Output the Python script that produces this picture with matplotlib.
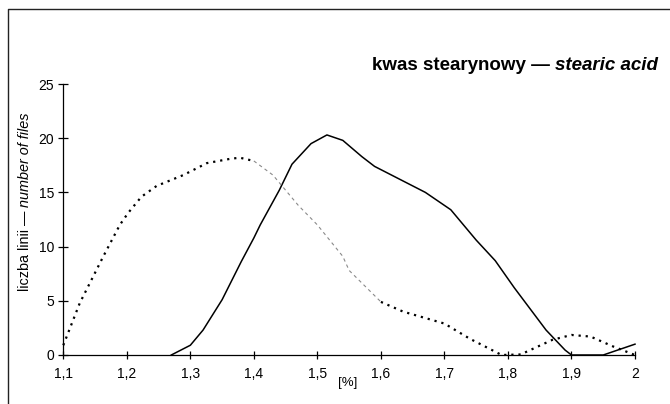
import matplotlib
matplotlib.use('agg')
import numpy as np
import matplotlib.pyplot as plt
from matplotlib.lines import Line2D

plt.rcParams['font.family'] = ['Liberation Sans', 'DejaVu Sans']

# data
x_solid = [1.27, 1.30, 1.32, 1.35, 1.38, 1.40, 1.41, 1.44, 1.46, 1.49, 1.515, 1.54,
           1.57, 1.59, 1.63, 1.67, 1.71, 1.75, 1.78, 1.81, 1.86, 1.89, 1.90, 1.95, 2.0]
y_solid = [0, 0.9, 2.3, 5.1, 8.6, 10.8, 12.0, 15.2, 17.6, 19.5, 20.3, 19.8,
           18.3, 17.4, 16.2, 15.0, 13.4, 10.6, 8.7, 6.2, 2.3, 0.45, 0, 0, 1.0]

x_dot = [1.10, 1.126, 1.163, 1.189, 1.202, 1.223, 1.247, 1.289, 1.326, 1.363, 1.378,
         1.40, 1.43, 1.47, 1.50, 1.54, 1.55, 1.60, 1.635, 1.70, 1.74, 1.79, 1.82,
         1.87, 1.90, 1.93, 1.965, 2.0]
y_dot = [0.9, 4.8, 9.1, 12.0, 13.1, 14.6, 15.6, 16.6, 17.7, 18.1, 18.2,
         17.9, 16.6, 13.8, 12.0, 9.1, 7.8, 4.9, 4.0, 2.9, 1.5, 0, 0.05,
         1.4, 1.85, 1.7, 0.8, 0]

x_ticks = [1.1, 1.2, 1.3, 1.4, 1.5, 1.6, 1.7, 1.8, 1.9, 2.0]
x_ticklabels = ['1,1', '1,2', '1,3', '1,4', '1,5', '1,6', '1,7', '1,8', '1,9', '2']
y_ticks = [0, 5, 10, 15, 20, 25]

fig = plt.figure(figsize=(6.7, 4.04), dpi=100)
ax = fig.add_axes([63.3 / 670, 1 - 355 / 404, (635 - 63.3) / 670, (355 - 84) / 404])

ax.plot(x_solid, y_solid, color='black', lw=1.1, clip_on=False)

xd = np.array(x_dot)
yd = np.array(y_dot)
dark1 = xd <= 1.40
gray = (xd >= 1.40) & (xd <= 1.60)
dark2 = xd >= 1.60
for m in (dark1, dark2):
    ax.plot(xd[m], yd[m], color='black', lw=1.6, linestyle=(0, (1, 2.2)), clip_on=False)
ax.plot(xd[gray], yd[gray], color='#8a8a8a', lw=0.8, linestyle=(0, (3, 3)), clip_on=False)

ax.set_xlim(1.1, 2.0)
ax.set_ylim(0, 25)
ax.set_xticks(x_ticks)
ax.set_xticklabels(x_ticklabels)
ax.set_yticks(y_ticks)
ax.spines['top'].set_visible(False)
ax.spines['right'].set_visible(False)
ax.tick_params(axis='x', direction='inout', length=6, width=0.9, labelsize=10, pad=6)
ax.tick_params(axis='y', direction='inout', length=7, width=0.9, labelsize=10, pad=3)
for s in ('left', 'bottom'):
    ax.spines[s].set_linewidth(0.9)

# x label
fig.text(348 / 670, 1 - 383 / 404, '[%]', fontsize=9.5, ha='center', va='center')

# y label: normal + italic part
t1 = fig.text(25 / 670, 1 - 291 / 404, 'liczba linii — ', fontsize=10.4,
              rotation=90, ha='center', va='bottom')
ax.annotate('number of files', xy=(0.5, 1), xycoords=t1, fontsize=10.4,
            style='italic', rotation=90, ha='center', va='bottom')

# title: bold + bold italic part
t2 = fig.text(658 / 670, 1 - 70 / 404, 'stearic acid', fontsize=13.5,
              weight='bold', style='italic', ha='right', va='baseline')
ax.annotate('kwas stearynowy — ', xy=(0, 0), xycoords=t2, fontsize=13.5,
            weight='bold', ha='right', va='bottom')

# frame around the figure (left and top edges visible)
fig.add_artist(Line2D([8 / 670, 8 / 670, 1.0], [0.0, 1 - 9 / 404, 1 - 9 / 404],
                      transform=fig.transFigure, color='#222222', lw=1.0))

fig.savefig('out.png', dpi=100)
